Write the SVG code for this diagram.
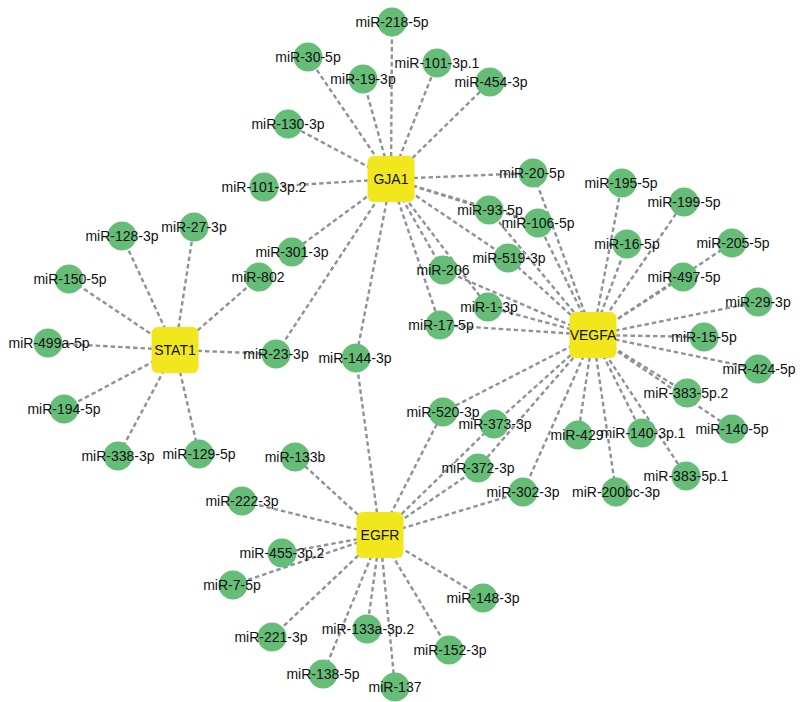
<svg xmlns="http://www.w3.org/2000/svg" width="800" height="702" viewBox="0 0 800 702">
<style>
.e{stroke:#8d929a;stroke-width:2.4;stroke-dasharray:4.5 3;fill:none}
.m{fill:#66bd78}
.h{fill:#f2e71c}
text{font-family:"Liberation Sans",Arial,sans-serif;font-size:14px;fill:#111;text-anchor:middle}
</style>
<rect width="800" height="702" fill="#fff"/>
<g id="edges">
<!-- GJA1 -->
<line class="e" x1="391" y1="179" x2="392" y2="22"/>
<line class="e" x1="391" y1="179" x2="308" y2="57"/>
<line class="e" x1="391" y1="179" x2="363" y2="79"/>
<line class="e" x1="391" y1="179" x2="437" y2="63"/>
<line class="e" x1="391" y1="179" x2="490" y2="82"/>
<line class="e" x1="391" y1="179" x2="288" y2="124"/>
<line class="e" x1="391" y1="179" x2="264" y2="187"/>
<line class="e" x1="391" y1="179" x2="533" y2="173"/>
<line class="e" x1="391" y1="179" x2="489" y2="210"/>
<line class="e" x1="391" y1="179" x2="538" y2="223"/>
<line class="e" x1="391" y1="179" x2="508" y2="258"/>
<line class="e" x1="391" y1="179" x2="443" y2="270"/>
<line class="e" x1="391" y1="179" x2="488" y2="307"/>
<line class="e" x1="391" y1="179" x2="440" y2="325"/>
<line class="e" x1="391" y1="179" x2="292" y2="252"/>
<line class="e" x1="391" y1="179" x2="276" y2="354"/>
<line class="e" x1="391" y1="179" x2="356" y2="358"/>
<!-- STAT1 -->
<line class="e" x1="175" y1="350" x2="122" y2="236"/>
<line class="e" x1="175" y1="350" x2="194" y2="227"/>
<line class="e" x1="175" y1="350" x2="69" y2="279"/>
<line class="e" x1="175" y1="350" x2="48" y2="343"/>
<line class="e" x1="175" y1="350" x2="64" y2="409"/>
<line class="e" x1="175" y1="350" x2="118" y2="456"/>
<line class="e" x1="175" y1="350" x2="199" y2="454"/>
<line class="e" x1="175" y1="350" x2="259" y2="277"/>
<line class="e" x1="175" y1="350" x2="276" y2="354"/>
<!-- VEGFA -->
<line class="e" x1="593" y1="335" x2="533" y2="173"/>
<line class="e" x1="593" y1="335" x2="489" y2="210"/>
<line class="e" x1="593" y1="335" x2="538" y2="223"/>
<line class="e" x1="593" y1="335" x2="508" y2="258"/>
<line class="e" x1="593" y1="335" x2="443" y2="270"/>
<line class="e" x1="593" y1="335" x2="488" y2="307"/>
<line class="e" x1="593" y1="335" x2="440" y2="325"/>
<line class="e" x1="593" y1="335" x2="622" y2="183"/>
<line class="e" x1="593" y1="335" x2="684" y2="202"/>
<line class="e" x1="593" y1="335" x2="627" y2="244"/>
<line class="e" x1="593" y1="335" x2="732" y2="243"/>
<line class="e" x1="593" y1="335" x2="683" y2="277"/>
<line class="e" x1="593" y1="335" x2="758" y2="302"/>
<line class="e" x1="593" y1="335" x2="704" y2="337"/>
<line class="e" x1="593" y1="335" x2="758" y2="369"/>
<line class="e" x1="593" y1="335" x2="687" y2="393"/>
<line class="e" x1="593" y1="335" x2="732" y2="429"/>
<line class="e" x1="593" y1="335" x2="642" y2="433"/>
<line class="e" x1="593" y1="335" x2="578" y2="435"/>
<line class="e" x1="593" y1="335" x2="686" y2="476"/>
<line class="e" x1="593" y1="335" x2="616" y2="492"/>
<line class="e" x1="593" y1="335" x2="443" y2="412"/>
<line class="e" x1="593" y1="335" x2="494" y2="424"/>
<line class="e" x1="593" y1="335" x2="478" y2="468"/>
<line class="e" x1="593" y1="335" x2="523" y2="492"/>
<!-- EGFR -->
<line class="e" x1="380" y1="535" x2="356" y2="358"/>
<line class="e" x1="380" y1="535" x2="295" y2="457"/>
<line class="e" x1="380" y1="535" x2="242" y2="501"/>
<line class="e" x1="380" y1="535" x2="282" y2="553"/>
<line class="e" x1="380" y1="535" x2="233" y2="585"/>
<line class="e" x1="380" y1="535" x2="272" y2="637"/>
<line class="e" x1="380" y1="535" x2="323" y2="674"/>
<line class="e" x1="380" y1="535" x2="367" y2="629"/>
<line class="e" x1="380" y1="535" x2="395" y2="687"/>
<line class="e" x1="380" y1="535" x2="449" y2="650"/>
<line class="e" x1="380" y1="535" x2="483" y2="598"/>
<line class="e" x1="380" y1="535" x2="523" y2="492"/>
<line class="e" x1="380" y1="535" x2="478" y2="468"/>
<line class="e" x1="380" y1="535" x2="494" y2="424"/>
<line class="e" x1="380" y1="535" x2="443" y2="412"/>
</g>
<g id="mirnas">
<g id="miR-218-5p"><circle class="m" cx="392" cy="22" r="14.5"/><text x="392" y="27">miR-218-5p</text></g>
<g id="miR-30-5p"><circle class="m" cx="308" cy="57" r="14.5"/><text x="308" y="62">miR-30-5p</text></g>
<g id="miR-19-3p"><circle class="m" cx="363" cy="79" r="14.5"/><text x="363" y="84">miR-19-3p</text></g>
<g id="miR-101-3p.1"><circle class="m" cx="437" cy="63" r="14.5"/><text x="437" y="68">miR-101-3p.1</text></g>
<g id="miR-454-3p"><circle class="m" cx="490" cy="82" r="14.5"/><text x="491" y="87">miR-454-3p</text></g>
<g id="miR-130-3p"><circle class="m" cx="288" cy="124" r="14.5"/><text x="288" y="129">miR-130-3p</text></g>
<g id="miR-101-3p.2"><circle class="m" cx="264" cy="187" r="14.5"/><text x="264" y="192">miR-101-3p.2</text></g>
<g id="miR-20-5p"><circle class="m" cx="533" cy="173" r="14.5"/><text x="532" y="178">miR-20-5p</text></g>
<g id="miR-93-5p"><circle class="m" cx="489" cy="210" r="14.5"/><text x="490" y="215">miR-93-5p</text></g>
<g id="miR-106-5p"><circle class="m" cx="538" cy="223" r="14.5"/><text x="538" y="228">miR-106-5p</text></g>
<g id="miR-519-3p"><circle class="m" cx="508" cy="258" r="14.5"/><text x="509" y="263">miR-519-3p</text></g>
<g id="miR-206"><circle class="m" cx="443" cy="270" r="14.5"/><text x="443" y="275">miR-206</text></g>
<g id="miR-1-3p"><circle class="m" cx="488" cy="307" r="14.5"/><text x="489" y="312">miR-1-3p</text></g>
<g id="miR-17-5p"><circle class="m" cx="440" cy="325" r="14.5"/><text x="441" y="330">miR-17-5p</text></g>
<g id="miR-301-3p"><circle class="m" cx="292" cy="252" r="14.5"/><text x="292" y="257">miR-301-3p</text></g>
<g id="miR-802"><circle class="m" cx="259" cy="277" r="14.5"/><text x="258" y="282">miR-802</text></g>
<g id="miR-23-3p"><circle class="m" cx="276" cy="354" r="14.5"/><text x="276" y="359">miR-23-3p</text></g>
<g id="miR-144-3p"><circle class="m" cx="356" cy="358" r="14.5"/><text x="355" y="363">miR-144-3p</text></g>
<g id="miR-133b"><circle class="m" cx="295" cy="457" r="14.5"/><text x="295" y="462">miR-133b</text></g>
<g id="miR-128-3p"><circle class="m" cx="122" cy="236" r="14.5"/><text x="122" y="241">miR-128-3p</text></g>
<g id="miR-27-3p"><circle class="m" cx="194" cy="227" r="14.5"/><text x="194" y="232">miR-27-3p</text></g>
<g id="miR-150-5p"><circle class="m" cx="69" cy="279" r="14.5"/><text x="70" y="284">miR-150-5p</text></g>
<g id="miR-499a-5p"><circle class="m" cx="48" cy="343" r="14.5"/><text x="49" y="348">miR-499a-5p</text></g>
<g id="miR-194-5p"><circle class="m" cx="64" cy="409" r="14.5"/><text x="64" y="414">miR-194-5p</text></g>
<g id="miR-338-3p"><circle class="m" cx="118" cy="456" r="14.5"/><text x="118" y="461">miR-338-3p</text></g>
<g id="miR-129-5p"><circle class="m" cx="199" cy="454" r="14.5"/><text x="199" y="459">miR-129-5p</text></g>
<g id="miR-195-5p"><circle class="m" cx="622" cy="183" r="14.5"/><text x="621" y="188">miR-195-5p</text></g>
<g id="miR-199-5p"><circle class="m" cx="684" cy="202" r="14.5"/><text x="684" y="207">miR-199-5p</text></g>
<g id="miR-16-5p"><circle class="m" cx="627" cy="244" r="14.5"/><text x="627" y="249">miR-16-5p</text></g>
<g id="miR-205-5p"><circle class="m" cx="732" cy="243" r="14.5"/><text x="733" y="248">miR-205-5p</text></g>
<g id="miR-497-5p"><circle class="m" cx="683" cy="277" r="14.5"/><text x="684" y="282">miR-497-5p</text></g>
<g id="miR-29-3p"><circle class="m" cx="758" cy="302" r="14.5"/><text x="758" y="307">miR-29-3p</text></g>
<g id="miR-15-5p"><circle class="m" cx="704" cy="337" r="14.5"/><text x="704" y="342">miR-15-5p</text></g>
<g id="miR-424-5p"><circle class="m" cx="758" cy="369" r="14.5"/><text x="759" y="374">miR-424-5p</text></g>
<g id="miR-383-5p.2"><circle class="m" cx="687" cy="393" r="14.5"/><text x="686" y="398">miR-383-5p.2</text></g>
<g id="miR-140-5p"><circle class="m" cx="732" cy="429" r="14.5"/><text x="732" y="434">miR-140-5p</text></g>
<g id="miR-140-3p.1"><circle class="m" cx="642" cy="433" r="14.5"/><text x="643" y="438">miR-140-3p.1</text></g>
<g id="miR-429"><circle class="m" cx="578" cy="435" r="14.5"/><text x="577" y="440">miR-429</text></g>
<g id="miR-383-5p.1"><circle class="m" cx="686" cy="476" r="14.5"/><text x="686" y="481">miR-383-5p.1</text></g>
<g id="miR-200bc-3p"><circle class="m" cx="616" cy="492" r="14.5"/><text x="616" y="497">miR-200bc-3p</text></g>
<g id="miR-520-3p"><circle class="m" cx="443" cy="412" r="14.5"/><text x="443" y="417">miR-520-3p</text></g>
<g id="miR-373-3p"><circle class="m" cx="494" cy="424" r="14.5"/><text x="495" y="429">miR-373-3p</text></g>
<g id="miR-372-3p"><circle class="m" cx="478" cy="468" r="14.5"/><text x="478" y="473">miR-372-3p</text></g>
<g id="miR-302-3p"><circle class="m" cx="523" cy="492" r="14.5"/><text x="523" y="497">miR-302-3p</text></g>
<g id="miR-222-3p"><circle class="m" cx="242" cy="501" r="14.5"/><text x="242" y="506">miR-222-3p</text></g>
<g id="miR-455-3p.2"><circle class="m" cx="282" cy="553" r="14.5"/><text x="282" y="558">miR-455-3p.2</text></g>
<g id="miR-7-5p"><circle class="m" cx="233" cy="585" r="14.5"/><text x="232" y="590">miR-7-5p</text></g>
<g id="miR-221-3p"><circle class="m" cx="272" cy="637" r="14.5"/><text x="271" y="642">miR-221-3p</text></g>
<g id="miR-133a-3p.2"><circle class="m" cx="367" cy="629" r="14.5"/><text x="368" y="634">miR-133a-3p.2</text></g>
<g id="miR-138-5p"><circle class="m" cx="323" cy="674" r="14.5"/><text x="323" y="679">miR-138-5p</text></g>
<g id="miR-137"><circle class="m" cx="395" cy="687" r="14.5"/><text x="395" y="692">miR-137</text></g>
<g id="miR-152-3p"><circle class="m" cx="449" cy="650" r="14.5"/><text x="450" y="655">miR-152-3p</text></g>
<g id="miR-148-3p"><circle class="m" cx="483" cy="598" r="14.5"/><text x="483" y="603">miR-148-3p</text></g>
</g>
<g id="hubs">
<g id="GJA1"><rect class="h" x="367.5" y="156" width="47" height="46" rx="6"/><text x="391" y="184">GJA1</text></g>
<g id="STAT1"><rect class="h" x="151.5" y="327" width="47" height="46" rx="6"/><text x="175" y="355">STAT1</text></g>
<g id="VEGFA"><rect class="h" x="569.5" y="312" width="47" height="46" rx="6"/><text x="593" y="340">VEGFA</text></g>
<g id="EGFR"><rect class="h" x="356.5" y="512" width="47" height="46" rx="6"/><text x="380" y="540">EGFR</text></g>
</g>
</svg>
